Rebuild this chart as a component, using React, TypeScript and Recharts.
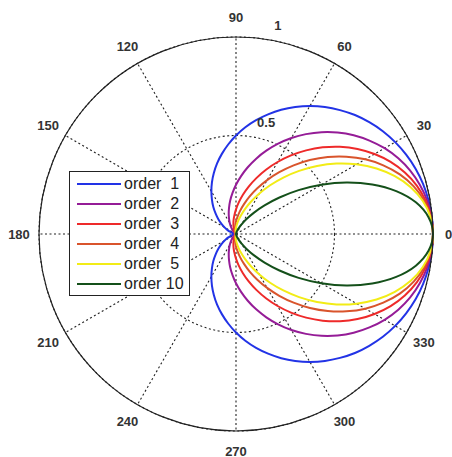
import { RadarChart, Radar, PolarGrid, PolarAngleAxis, PolarRadiusAxis, Legend } from 'recharts'

// angle categories (deg), 0..180; the lower half mirrors the upper half
const ANGLES = [
  0, 5, 10, 15, 20, 25, 30, 35, 40, 45, 50, 55, 60, 65, 70, 75, 80, 85, 90,
  95, 100, 105, 110, 115, 120, 125, 130, 135, 140, 145, 150, 155, 160, 165, 170, 175, 180,
]

const ORDER_1 = [
  1, 0.998, 0.992, 0.983, 0.97, 0.953, 0.933, 0.91, 0.883, 0.854, 0.821, 0.787, 0.75, 0.711, 0.671, 0.629, 0.587, 0.544, 0.5,
  0.456, 0.413, 0.371, 0.329, 0.289, 0.25, 0.213, 0.179, 0.146, 0.117, 0.09, 0.067, 0.047, 0.03, 0.017, 0.008, 0.002, 0,
]
const ORDER_2 = [
  1, 0.996, 0.985, 0.966, 0.941, 0.909, 0.871, 0.827, 0.78, 0.729, 0.675, 0.619, 0.563, 0.506, 0.45, 0.396, 0.344, 0.295, 0.25,
  0.208, 0.171, 0.137, 0.108, 0.083, 0.063, 0.045, 0.032, 0.021, 0.014, 0.008, 0.004, 0.002, 0.001, 0, 0, 0, 0,
]
const ORDER_3 = [
  1, 0.994, 0.977, 0.95, 0.912, 0.866, 0.812, 0.753, 0.689, 0.622, 0.554, 0.487, 0.422, 0.36, 0.302, 0.249, 0.202, 0.161, 0.125,
  0.095, 0.071, 0.051, 0.036, 0.024, 0.016, 0.01, 0.006, 0.003, 0.002, 0.001, 0, 0, 0, 0, 0, 0, 0,
]
const ORDER_4 = [
  1, 0.992, 0.97, 0.934, 0.885, 0.825, 0.758, 0.684, 0.608, 0.531, 0.455, 0.383, 0.316, 0.256, 0.203, 0.157, 0.119, 0.087, 0.063,
  0.043, 0.029, 0.019, 0.012, 0.007, 0.004, 0.002, 0.001, 0, 0, 0, 0, 0, 0, 0, 0, 0, 0,
]
const ORDER_5 = [
  1, 0.991, 0.963, 0.918, 0.858, 0.787, 0.707, 0.623, 0.537, 0.453, 0.374, 0.302, 0.237, 0.182, 0.136, 0.099, 0.07, 0.047, 0.031,
  0.02, 0.012, 0.007, 0.004, 0.002, 0.001, 0, 0, 0, 0, 0, 0, 0, 0, 0, 0, 0, 0,
]
const ORDER_10 = [
  1, 0.981, 0.927, 0.842, 0.736, 0.619, 0.5, 0.388, 0.288, 0.205, 0.14, 0.091, 0.056, 0.033, 0.019, 0.01, 0.005, 0.002, 0.001,
  0, 0, 0, 0, 0, 0, 0, 0, 0, 0, 0, 0, 0, 0, 0, 0, 0, 0,
]

const LABEL_TICKS = [0, 30, 60, 90, 120, 150, 180, 210, 240, 270, 300, 330]
const RADIUS_TICKS = [0.5, 1]

const SERIES = [
  { key: 'o1', name: 'order  1', values: ORDER_1, color: '#2233e6' },
  { key: 'o2', name: 'order  2', values: ORDER_2, color: '#951c97' },
  { key: 'o3', name: 'order  3', values: ORDER_3, color: '#ee2a2a' },
  { key: 'o4', name: 'order  4', values: ORDER_4, color: '#d9542c' },
  { key: 'o5', name: 'order  5', values: ORDER_5, color: '#f2ec16' },
  { key: 'o10', name: 'order 10', values: ORDER_10, color: '#14501a' },
]

const last = ANGLES.length - 1
const data: Record<string, number>[] = []
for (let i = 0; i < last * 2; i++) {
  const j = i <= last ? i : last * 2 - i
  const row: Record<string, number> = { angle: i <= last ? ANGLES[i] : 360 - ANGLES[j] }
  SERIES.forEach((s) => {
    row[s.key] = s.values[j] ?? 0
  })
  data.push(row)
}

const CX = 236
const CY = 234
const R = 197
const FONT = '"Liberation Sans", Arial, sans-serif'

// closed Catmull-Rom curve through the points the Radar computed
const smoothPath = (pts: { x: number; y: number }[]) => {
  const n = pts.length
  if (!n) return ''
  let d = `M${pts[0].x},${pts[0].y}`
  for (let i = 0; i < n; i++) {
    const p0 = pts[(i - 1 + n) % n]
    const p1 = pts[i]
    const p2 = pts[(i + 1) % n]
    const p3 = pts[(i + 2) % n]
    const c1x = p1.x + (p2.x - p0.x) / 6
    const c1y = p1.y + (p2.y - p0.y) / 6
    const c2x = p2.x - (p3.x - p1.x) / 6
    const c2y = p2.y - (p3.y - p1.y) / 6
    d += ` C${c1x},${c1y} ${c2x},${c2y} ${p2.x},${p2.y}`
  }
  return d + 'Z'
}

const SmoothShape = (props: any) => (
  <path d={smoothPath(props.points || [])} fill="none" stroke={props.stroke} strokeWidth={props.strokeWidth} />
)

const AngleTick = (props: any) => {
  const { payload } = props
  const v = Number(payload.value)
  if (!LABEL_TICKS.includes(v)) return <g />
  const rad = (v * Math.PI) / 180
  const off = v === 0 ? 12 : 20
  const x = CX + (R + off) * Math.cos(rad)
  const y = CY - (R + off) * Math.sin(rad)
  return (
    <text x={x} y={y} dy={4.5} textAnchor={v === 0 ? 'start' : 'middle'} fontFamily={FONT} fontSize={13} fontWeight="bold" fill="#333">
      {v}
    </text>
  )
}

const RadiusTick = (props: any) => {
  const { x, y, payload } = props
  if (!payload.value) return <g />
  return (
    <text x={x + 4} y={y - 10} textAnchor="start" fontFamily={FONT} fontSize={13} fontWeight="bold" fill="#333">
      {payload.value}
    </text>
  )
}

const LegendBox = () => (
  <div style={{ border: '1px solid #222', background: '#fff', width: 121, height: 125, boxSizing: 'border-box', paddingTop: 2 }}>
    {SERIES.map((s) => (
      <div key={s.key} style={{ height: 20, display: 'flex', alignItems: 'center' }}>
        <svg width={54} height={20}>
          <line x1={7} y1={10} x2={51} y2={10} stroke={s.color} strokeWidth={2} />
        </svg>
        <span style={{ fontFamily: FONT, fontSize: 16, color: '#222', whiteSpace: 'pre', lineHeight: '20px' }}>{s.name}</span>
      </div>
    ))}
  </div>
)

export default function App() {
  return (
    <div style={{ position: 'absolute', left: 0, top: 0, width: 452, height: 457, background: '#fff' }}>
      <RadarChart width={452} height={457} data={data} cx={CX} cy={CY} outerRadius={R} startAngle={0} endAngle={360}
        margin={{ top: 0, right: 0, bottom: 0, left: 0 }}>
        <PolarGrid gridType="circle" polarAngles={LABEL_TICKS} stroke="#222" strokeWidth={1.1} strokeDasharray="2 2.5" />
        <PolarAngleAxis dataKey="angle" type="number" domain={[0, 360]} ticks={LABEL_TICKS} axisLineType="circle"
          axisLine={{ stroke: '#222', strokeWidth: 1.2 }} tickLine={false} tick={<AngleTick />} />
        <PolarRadiusAxis angle={80} domain={[0, 1]} ticks={RADIUS_TICKS} axisLine={false} tickLine={false} tick={<RadiusTick />} />
        {SERIES.map((s) => (
          <Radar key={s.key} name={s.name} dataKey={s.key} stroke={s.color} strokeWidth={2} fill="none" fillOpacity={0}
            dot={false} isAnimationActive={false} shape={(p: any) => <SmoothShape {...p} />} />
        ))}
        <Legend content={<LegendBox />} wrapperStyle={{ position: 'absolute', left: 69, top: 171, width: 121, height: 125 }} />
      </RadarChart>
    </div>
  )
}
